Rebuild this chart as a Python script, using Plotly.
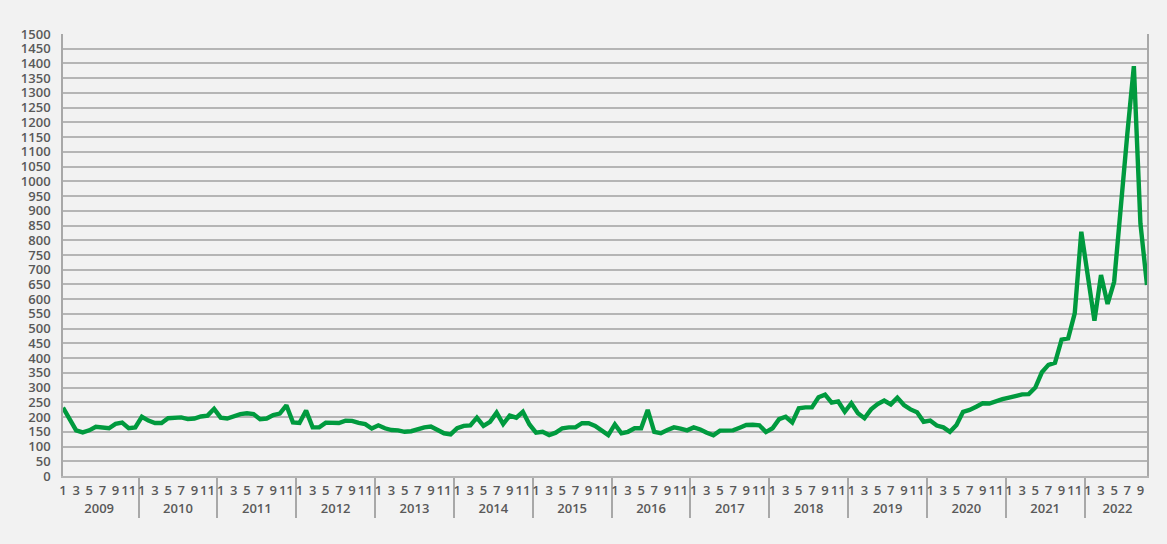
import plotly.graph_objects as go

years = [str(y) for y in range(2009, 2023)]
month_numbers = list(range(1, 13))

v2009 = [232, 192, 155, 148, 155, 167, 165, 162, 177, 181, 162, 165]
v2010 = [201, 188, 180, 180, 196, 197, 199, 193, 195, 202, 205, 228]
v2011 = [198, 195, 203, 210, 213, 210, 193, 195, 207, 212, 240, 182]
v2012 = [180, 222, 165, 165, 181, 181, 180, 188, 187, 180, 176, 161]
v2013 = [172, 162, 156, 155, 150, 152, 159, 165, 168, 158, 145, 141]
v2014 = [162, 170, 172, 198, 170, 184, 215, 176, 205, 198, 218, 175]
v2015 = [147, 150, 139, 147, 162, 165, 165, 179, 179, 170, 156, 139]
v2016 = [175, 145, 150, 162, 162, 224, 150, 145, 156, 165, 161, 155]
v2017 = [165, 158, 147, 138, 154, 154, 155, 164, 173, 174, 172, 149]
v2018 = [162, 193, 201, 182, 230, 233, 233, 267, 276, 249, 253, 218]
v2019 = [247, 213, 196, 226, 244, 256, 243, 266, 241, 226, 216, 184]
v2020 = [188, 171, 165, 150, 173, 218, 224, 235, 247, 246, 254, 261]
v2021 = [266, 273, 277, 278, 300, 352, 377, 384, 463, 467, 552, 829]
v2022 = [680, 527, 682, 584, 659, 920, 1160, 1391, 857, 648]

series = [v2009, v2010, v2011, v2012, v2013, v2014, v2015,
          v2016, v2017, v2018, v2019, v2020, v2021, v2022]

# odd months labelled; even months get unique invisible labels
month_labels = [str(m) if m % 2 == 1 else "\u200b" * (m // 2) for m in month_numbers]

x_year, x_month, y_vals = [], [], []
for yr, vals in zip(years, series):
    for i, v in enumerate(vals):
        x_year.append(yr)
        x_month.append(month_labels[i])
        y_vals.append(v)

y_ticks = list(range(0, 1501, 50))

fig = go.Figure()
fig.add_trace(go.Scatter(
    x=[x_year, x_month], y=y_vals, mode="lines",
    line=dict(color="#009a3e", width=4.4),
    hoverinfo="y",
))

font_family = "Open Sans, DejaVu Sans, sans-serif"
fig.update_layout(
    width=1167, height=544,
    margin=dict(l=63, r=20, t=34, b=68),
    paper_bgcolor="#f2f2f2", plot_bgcolor="#f2f2f2",
    showlegend=False,
    font=dict(family=font_family, color="#595959"),
)
fig.update_yaxes(
    range=[0, 1500], tickvals=y_ticks, ticktext=[str(t) for t in y_ticks],
    showgrid=True, gridcolor="#b5b5b5", gridwidth=1.6,
    showline=True, linecolor="#a8a8a8", linewidth=1.6, mirror=True,
    zeroline=False, ticks="", ticklabelstandoff=8,
    tickfont=dict(size=13, color="#595959", family=font_family, weight=600),
)
fig.update_xaxes(
    type="multicategory", tickangle=0, showgrid=False,
    tickmode="linear", tick0=0, dtick=1,
    showline=True, linecolor="#b5b5b5", linewidth=1.6,
    showdividers=True, dividercolor="#a8a8a8", dividerwidth=1.6,
    ticks="", ticklabelstandoff=2,
    tickfont=dict(size=13, color="#595959", family=font_family, weight=600),
)

fig.write_html(
    "out.html",
    config={"displayModeBar": False},
    post_script="document.body.style.margin='0';document.body.style.overflow='hidden';document.body.style.background='#f2f2f2';",
)
